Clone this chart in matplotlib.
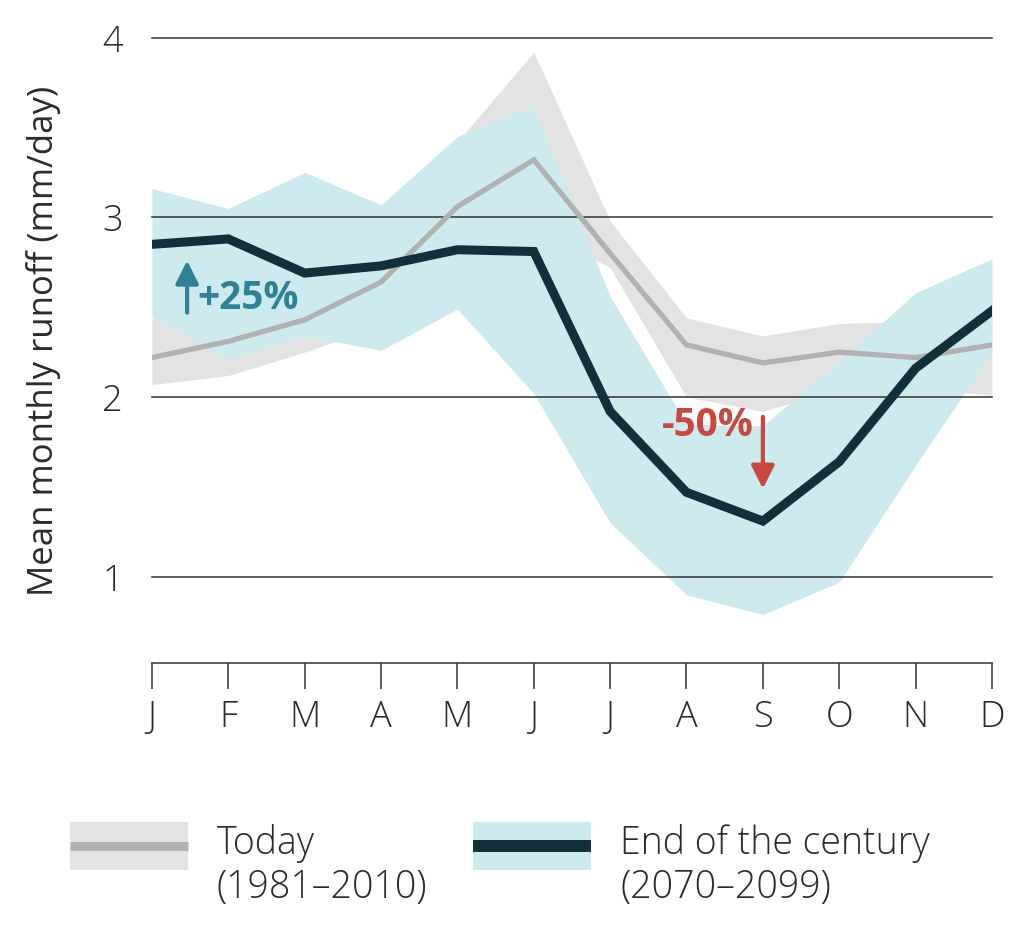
import numpy as np
import matplotlib
matplotlib.use('Agg')
import matplotlib.pyplot as plt
from matplotlib.patches import Rectangle

plt.rcParams['font.family'] = ['Open Sans', 'DejaVu Sans']
plt.rcParams['font.weight'] = 'light'

# Datos
meses = ['J', 'F', 'M', 'A', 'M', 'J', 'J', 'A', 'S', 'O', 'N', 'D']
hoy = [2.22, 2.31, 2.43, 2.64, 3.06, 3.32, 2.80, 2.29, 2.19, 2.25, 2.22, 2.29]
hoy_min = [2.07, 2.12, 2.25, 2.40, 2.75, 2.95, 2.72, 2.00, 1.92, 2.05, 2.05, 2.01]
hoy_max = [2.44, 2.50, 2.60, 2.85, 3.42, 3.92, 2.98, 2.44, 2.34, 2.41, 2.42, 2.55]
fin_siglo = [2.85, 2.88, 2.69, 2.73, 2.82, 2.81, 1.92, 1.47, 1.31, 1.64, 2.16, 2.48]
fin_min = [2.45, 2.21, 2.34, 2.26, 2.49, 2.02, 1.30, 0.90, 0.79, 0.97, 1.62, 2.25]
fin_max = [3.16, 3.05, 3.25, 3.07, 3.45, 3.62, 2.56, 1.85, 1.84, 2.20, 2.58, 2.77]

gris_banda = '#e3e3e3'
gris_linea = '#b1b1b1'
azul_banda = '#cdebee'
azul_linea = '#12303b'
texto = '#2b2b2b'

x = np.arange(len(meses))

fig = plt.figure(figsize=(10.24, 9.26), dpi=100)
ax = fig.add_axes([0.1484, 0.284, 0.8203, 0.685])

# Bandas
ax.fill_between(x, hoy_min, hoy_max, color=gris_banda, lw=0, zorder=1)
ax.fill_between(x, fin_min, fin_max, color=azul_banda, lw=0, zorder=2)

# Rejilla horizontal
for v in [1, 2, 3, 4]:
    ax.axhline(v, color='#333333', lw=1.1, zorder=3, clip_on=False)

# Líneas
ax.plot(x, hoy, color=gris_linea, lw=3.8, zorder=4, solid_joinstyle='miter')
ax.plot(x, fin_siglo, color=azul_linea, lw=6.5, zorder=5, solid_joinstyle='miter')

ax.set_xlim(0, 11)
ax.set_ylim(0.52, 4.05)

# Ejes
for s in ['top', 'right', 'left']:
    ax.spines[s].set_visible(False)
ax.spines['bottom'].set_color('#333333')
ax.spines['bottom'].set_linewidth(1.1)
ax.set_xticks(x)
ax.set_xticklabels(meses)
ax.set_yticks([1, 2, 3, 4])
ax.set_yticklabels(['1', '2', '3', '4'])
ax.tick_params(axis='x', direction='out', length=19, width=1.1, color='#333333',
               pad=7, labelsize=26, labelcolor=texto)
ax.tick_params(axis='y', length=0, pad=21, labelsize=26, labelcolor=texto)
ax.set_ylabel('Mean monthly runoff (mm/day)', fontsize=25, color=texto)
ax.yaxis.set_label_coords(-0.108, 0.508)

# Anotaciones
teal = '#2f8296'
rojo = '#c8473f'
ax.annotate('', xy=(0.46, 2.76), xytext=(0.46, 2.47),
            arrowprops=dict(arrowstyle='-|>,head_length=0.7,head_width=0.35',
                            lw=3, color=teal, mutation_scale=20, shrinkA=0, shrinkB=0),
            zorder=6)
ax.text(0.6, 2.55, '+25%', color=teal, fontsize=28, fontweight='bold',
        ha='left', va='center', zorder=6)
ax.annotate('', xy=(8, 1.49), xytext=(8, 1.89),
            arrowprops=dict(arrowstyle='-|>,head_length=0.7,head_width=0.35',
                            lw=3, color=rojo, mutation_scale=20, shrinkA=0, shrinkB=0),
            zorder=6)
ax.text(7.88, 1.84, '-50%', color=rojo, fontsize=28, fontweight='bold',
        ha='right', va='center', zorder=6)

# Leyenda manual
leg = fig.add_axes([0, 0, 1, 1], zorder=-1)
leg.set_xlim(0, 1024)
leg.set_ylim(926, 0)
leg.axis('off')
items = [(70, gris_banda, gris_linea, 9, 'Today\n(1981–2010)'),
         (473, azul_banda, azul_linea, 12, 'End of the century\n(2070–2099)')]
for x0, cb, cl, grosor, etiqueta in items:
    leg.add_patch(Rectangle((x0, 822), 118, 48, color=cb, lw=0))
    leg.plot([x0, x0 + 118], [846, 846], color=cl, lw=grosor * 0.72, solid_capstyle='butt')
    leg.text(x0 + 147, 824, etiqueta, fontsize=27, color=texto, ha='left', va='top',
             linespacing=1.18)

fig.savefig('out.png', dpi=100, facecolor='white')
